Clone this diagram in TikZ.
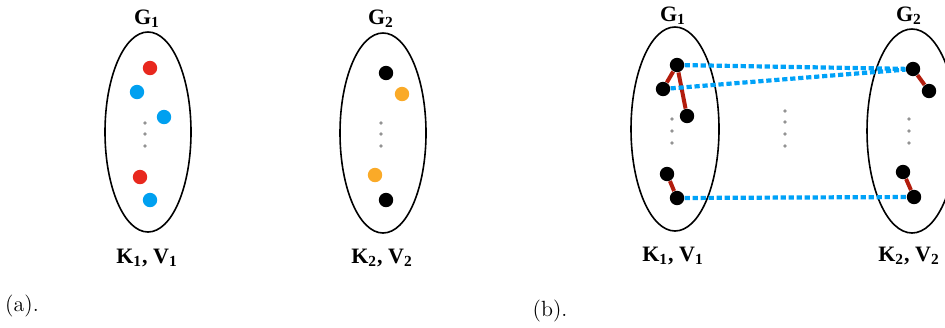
\documentclass[tikz,border=0pt]{standalone}
\usepackage{fontspec}
\newfontfamily\labfont{Liberation Serif}
\usetikzlibrary{shapes.geometric}
\definecolor{dotred}{RGB}{232,40,30}
\definecolor{dotblue}{RGB}{0,160,240}
\definecolor{dotorange}{RGB}{250,170,40}
\definecolor{bondred}{RGB}{178,28,12}
\definecolor{linkblue}{RGB}{0,162,248}

\begin{document}
\begin{tikzpicture}[x=0.5pt,y=-0.5pt,
      grp/.style={draw=black, ellipse, line width=0.8pt, inner sep=0pt,
                  minimum width=43pt, minimum height=100pt},
      vtx/.style={circle, fill=#1, inner sep=0pt, minimum size=7.2pt},
      vtx/.default=black,
      vdot/.style={circle, fill=gray!85, inner sep=0pt, minimum size=1.8pt},
      lab/.style={font=\labfont\fontsize{11}{13}\selectfont\bfseries},
      tag/.style={font=\fontsize{11}{13}\selectfont},
      bond/.style={draw=bondred, line width=2pt},
      link/.style={draw=linkblue, line width=2.1pt, dash pattern=on 2.6pt off 1.4pt}
    ]
    \useasboundingbox (0,0) rectangle (945,327);

    % (a): two separate groups
    \node[grp] (a1) at (148,132) {};
    \node[grp] (a2) at (383,133) {};
    \node[lab] (ga1) at (147,19) {G\textsubscript{1}};
    \node[lab] (ga2) at (381,19) {G\textsubscript{2}};
    \node[lab] (ka1) at (147,258) {K\textsubscript{1}, V\textsubscript{1}};
    \node[lab] (ka2) at (382,258) {K\textsubscript{2}, V\textsubscript{2}};

    \node[vtx=dotred]  (p1) at (150,68) {};
    \node[vtx=dotblue] (p2) at (137,92) {};
    \node[vtx=dotblue] (p3) at (164,117) {};
    \node[vtx=dotred]  (p4) at (140,177) {};
    \node[vtx=dotblue] (p5) at (150,200) {};

    \node[vtx]           (q1) at (386,73) {};
    \node[vtx=dotorange] (q2) at (402,94) {};
    \node[vtx=dotorange] (q3) at (375,175) {};
    \node[vtx]           (q4) at (386,200) {};

    \foreach \y [count=\i] in {123,134,146} {
      \node[vdot] (da1-\i) at (145,\y) {};
      \node[vdot] (da2-\i) at (381,\y) {};
    }

    % (b): matched groups
    \node[grp, minimum width=44pt, minimum height=102pt] (b1) at (675,129) {};
    \node[grp, minimum width=45pt, minimum height=102pt] (b2) at (912,131) {};
    \node[lab] (gb1) at (673,16) {G\textsubscript{1}};
    \node[lab] (gb2) at (909,16) {G\textsubscript{2}};
    \node[lab] (kb1) at (673,256) {K\textsubscript{1}, V\textsubscript{1}};
    \node[lab] (kb2) at (909,256) {K\textsubscript{2}, V\textsubscript{2}};

    \node[vtx] (u1) at (677,65) {};
    \node[vtx] (u2) at (663,89) {};
    \node[vtx] (u3) at (687,116) {};
    \node[vtx] (u4) at (667,174) {};
    \node[vtx] (u5) at (677,198) {};

    \node[vtx] (w1) at (913,69) {};
    \node[vtx] (w2) at (929,91) {};
    \node[vtx] (w3) at (903,172) {};
    \node[vtx] (w4) at (914,197) {};

    \foreach \y [count=\i] in {119,131,143} {
      \node[vdot] (db1-\i) at (672,\y) {};
      \node[vdot] (db2-\i) at (909,\y) {};
    }
    \foreach \y [count=\i] in {111,122,134,146}
      \node[vdot] (dm-\i) at (785,\y) {};

    \draw[bond] (u1) -- (u2);
    \draw[bond] (u1) -- (u3);
    \draw[bond] (u4) -- (u5);
    \draw[bond] (w1) -- (w2);
    \draw[bond] (w3) -- (w4);

    \draw[link] (u1) -- (w1);
    \draw[link] (u2) -- (w1);
    \draw[link] (u5) -- (w4);

    \node[tag] (ta) at (22,306) {(a).};
    \node[tag] (tb) at (550,311) {(b).};
  \end{tikzpicture}
\end{document}
